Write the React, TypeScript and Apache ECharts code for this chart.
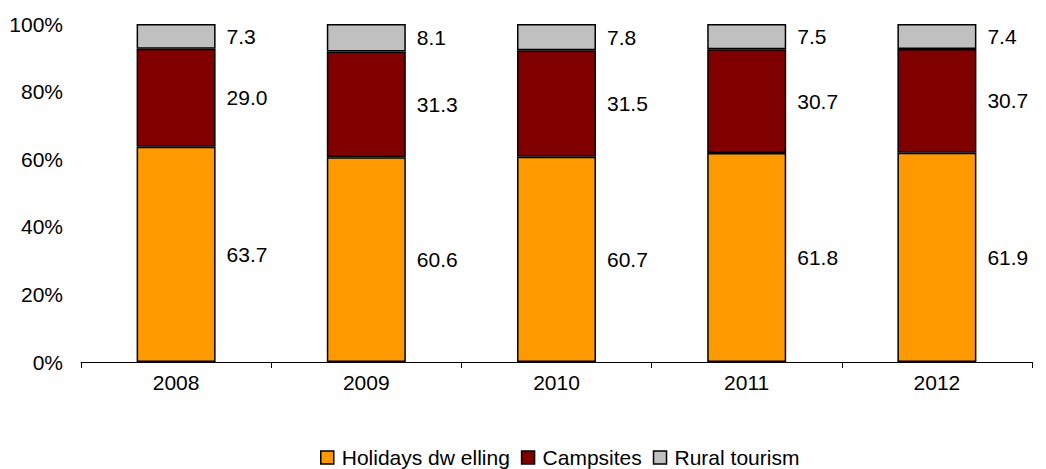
import React, { useEffect, useRef } from "react";
import * as echarts from "echarts";

const years = ["2008", "2009", "2010", "2011", "2012"];
const holidaysDwelling = [63.7, 60.6, 60.7, 61.8, 61.9];
const campsites = [29.0, 31.3, 31.5, 30.7, 30.7];
const ruralTourism = [7.3, 8.1, 7.8, 7.5, 7.4];
const yTicks = [0, 20, 40, 60, 80, 100];
const seriesNames = ["Holidays dw elling", "Campsites", "Rural tourism"];

const FONT = "'Liberation Sans', Arial, sans-serif";

export default function App() {
  const ref = useRef<HTMLDivElement>(null);
  useEffect(() => {
    if (!ref.current) return;
    const chart = echarts.init(ref.current, null, { renderer: "svg" });
    const colors = ["#FF9900", "#800000", "#C0C0C0"];
    const dataSets = [holidaysDwelling, campsites, ruralTourism];
    chart.setOption({
      animation: false,
      grid: { left: 81, right: 14, top: 24, bottom: 107, containLabel: false },
      legend: {
        top: 447,
        left: 320,
        itemWidth: 13,
        itemHeight: 13,
        itemGap: 11,
        icon: "rect",
        padding: 0,
        textStyle: { fontFamily: FONT, fontSize: 21, color: "#000", padding: [0, 0, 0, 3] },
        data: seriesNames.map((n, i) => ({
          name: n,
          itemStyle: { color: colors[i], borderColor: "#000", borderWidth: 1.5 },
        })),
      },
      xAxis: {
        type: "category",
        data: years,
        axisLine: { show: true, lineStyle: { color: "#000", width: 1 } },
        axisTick: { show: true, alignWithLabel: false, length: 6, lineStyle: { color: "#000" } },
        axisLabel: { fontFamily: FONT, fontSize: 21, color: "#000", margin: 10 },
        splitLine: { show: false },
      },
      yAxis: {
        type: "value",
        min: yTicks[0],
        max: yTicks[yTicks.length - 1],
        interval: 20,
        axisLine: { show: false },
        axisTick: { show: false },
        splitLine: { show: false },
        axisLabel: {
          fontFamily: FONT,
          fontSize: 21,
          color: "#000",
          margin: 18,
          formatter: "{value}%",
        },
      },
      series: dataSets.map((d, i) => ({
        name: seriesNames[i],
        type: "bar",
        stack: "total",
        barWidth: 79,
        data: d,
        itemStyle: { color: colors[i], borderColor: "#000", borderWidth: 1.5 },
        label: {
          show: true,
          position: "right",
          distance: 11,
          fontFamily: FONT,
          fontSize: 21,
          color: "#000",
          formatter: (p: any) => Number(p.value).toFixed(1),
        },
      })),
    });
    return () => chart.dispose();
  }, []);
  return (
    <div
      ref={ref}
      style={{ position: "fixed", left: 0, top: 0, width: 1046, height: 469, background: "#fff" }}
    />
  );
}
